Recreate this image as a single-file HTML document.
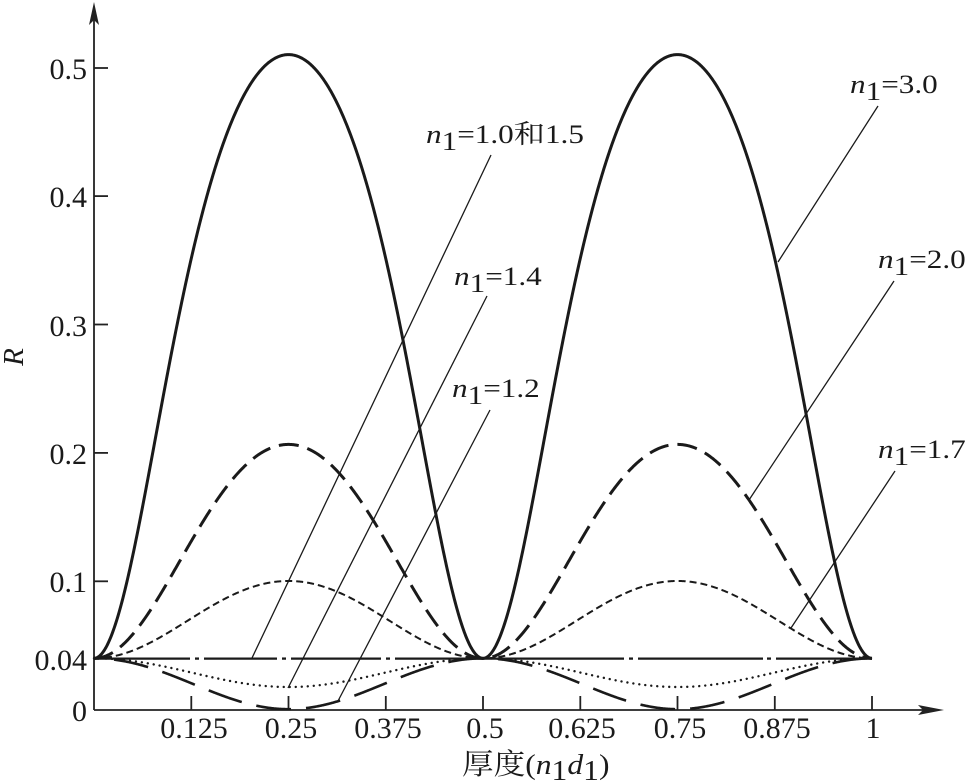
<!DOCTYPE html>
<html>
<head>
<meta charset="utf-8">
<style>
  html,body{margin:0;padding:0;background:#fff;}
  svg{display:block;}
  text{font-family:"Liberation Serif","Noto Serif CJK SC",serif;fill:#1a1a1a;}
</style>
</head>
<body>
<svg id="s" width="967" height="781" viewBox="0 0 967 781" xmlns="http://www.w3.org/2000/svg">
  <rect width="967" height="781" fill="#fff"/>
  <!-- axes -->
  <g stroke="#222" stroke-width="1.8" fill="none">
    <line x1="94" y1="710" x2="94" y2="14"/>
    <line x1="94" y1="710" x2="930" y2="710"/>
    <!-- y ticks -->
    <line x1="94" y1="581.3" x2="108" y2="581.3"/>
    <line x1="94" y1="452.9" x2="108" y2="452.9"/>
    <line x1="94" y1="324.5" x2="108" y2="324.5"/>
    <line x1="94" y1="196.1" x2="108" y2="196.1"/>
    <line x1="94" y1="68" x2="108" y2="68"/>
    <!-- x ticks -->
    <line x1="191.3" y1="710" x2="191.3" y2="696"/>
    <line x1="288.5" y1="710" x2="288.5" y2="696"/>
    <line x1="385.8" y1="710" x2="385.8" y2="696"/>
    <line x1="483" y1="710" x2="483" y2="696"/>
    <line x1="580.3" y1="710" x2="580.3" y2="696"/>
    <line x1="677.5" y1="710" x2="677.5" y2="696"/>
    <line x1="774.8" y1="710" x2="774.8" y2="696"/>
    <line x1="872" y1="710" x2="872" y2="696"/>
  </g>
  <polygon points="94,2 89,25 94,20 99,25" fill="#222"/>
  <polygon points="944,710 918,705 923,710 918,715" fill="#222"/>

  <!-- tick labels -->
  <g font-size="30" text-anchor="end">
    <text x="87" y="79">0.5</text>
    <text x="87" y="207">0.4</text>
    <text x="87" y="336">0.3</text>
    <text x="87" y="464">0.2</text>
    <text x="87" y="592">0.1</text>
    <text x="87" y="670">0.04</text>
    <text x="87" y="721">0</text>
  </g>
  <g font-size="30" text-anchor="middle">
    <text x="194" y="738">0.125</text>
    <text x="291" y="738">0.25</text>
    <text x="388" y="738">0.375</text>
    <text x="485" y="738">0.5</text>
    <text x="582" y="738">0.625</text>
    <text x="680" y="738">0.75</text>
    <text x="777" y="738">0.875</text>
    <text x="873" y="738">1</text>
  </g>

  <!-- axis labels -->
  <text transform="translate(23,357) rotate(-90)" font-size="29" font-style="italic" text-anchor="middle">R</text>
  <g transform="translate(462,774) scale(1.09,1)">
    <text x="0" y="0" font-size="29">厚度(<tspan font-style="italic">n</tspan><tspan dy="6">1</tspan><tspan dy="-6" font-style="italic">d</tspan><tspan dy="6">1</tspan><tspan dy="-6">)</tspan></text>
  </g>

  <!-- 0.04 line (n1=1.0 solid + n1=1.5 dash-dot) -->
  <g stroke="#1a1a1a" stroke-width="2.3" fill="none">
    <line x1="94" y1="658.6" x2="190" y2="658.6"/>
    <line x1="195" y1="658.6" x2="199" y2="658.6"/>
    <line x1="204" y1="658.6" x2="277" y2="658.6"/>
    <line x1="282" y1="658.6" x2="286" y2="658.6"/>
    <line x1="291" y1="658.6" x2="381" y2="658.6"/>
    <line x1="386" y1="658.6" x2="390" y2="658.6"/>
    <line x1="395" y1="658.6" x2="624" y2="658.6"/>
    <line x1="629" y1="658.6" x2="633" y2="658.6"/>
    <line x1="638" y1="658.6" x2="763" y2="658.6"/>
    <line x1="767" y1="658.6" x2="771" y2="658.6"/>
    <line x1="776" y1="658.6" x2="872" y2="658.6"/>
  </g>

  <!-- curves -->
  <path id="c30" fill="none" stroke="#1a1a1a" stroke-width="3"/>
  <path id="c20" fill="none" stroke="#1a1a1a" stroke-width="3" stroke-dasharray="20 9"/>
  <path id="c17" fill="none" stroke="#1a1a1a" stroke-width="2" stroke-dasharray="7 4"/>
  <path id="c14" fill="none" stroke="#1a1a1a" stroke-width="2.4" stroke-dasharray="0.01 6" stroke-linecap="round"/>
  <path id="c12" fill="none" stroke="#1a1a1a" stroke-width="2.6" stroke-dasharray="35 15" stroke-dashoffset="30"/>

  <!-- leader lines -->
  <g stroke="#1a1a1a" stroke-width="1.3" fill="none">
    <line x1="491" y1="155" x2="252" y2="658"/>
    <line x1="487" y1="296" x2="288" y2="688"/>
    <line x1="490" y1="410" x2="338" y2="701"/>
    <line x1="878" y1="106" x2="778" y2="262"/>
    <line x1="894" y1="281" x2="749" y2="500"/>
    <line x1="895" y1="471" x2="791" y2="628"/>
  </g>

  <!-- labels -->
  <g font-size="26">
    <g transform="translate(426,143) scale(1.2,1)"><text x="0" y="0"><tspan font-style="italic">n</tspan><tspan dy="7">1</tspan><tspan dy="-7">=1.0和1.5</tspan></text></g>
    <g transform="translate(454,285) scale(1.2,1)"><text x="0" y="0"><tspan font-style="italic">n</tspan><tspan dy="7">1</tspan><tspan dy="-7">=1.4</tspan></text></g>
    <g transform="translate(452,397) scale(1.2,1)"><text x="0" y="0"><tspan font-style="italic">n</tspan><tspan dy="7">1</tspan><tspan dy="-7">=1.2</tspan></text></g>
    <g transform="translate(850,93) scale(1.2,1)"><text x="0" y="0"><tspan font-style="italic">n</tspan><tspan dy="7">1</tspan><tspan dy="-7">=3.0</tspan></text></g>
    <g transform="translate(878,268) scale(1.2,1)"><text x="0" y="0"><tspan font-style="italic">n</tspan><tspan dy="7">1</tspan><tspan dy="-7">=2.0</tspan></text></g>
    <g transform="translate(878,458) scale(1.2,1)"><text x="0" y="0"><tspan font-style="italic">n</tspan><tspan dy="7">1</tspan><tspan dy="-7">=1.7</tspan></text></g>
  </g>
</svg>
<script>
(function(){
  function R(n,x){
    var r1=(1-n)/(1+n), r2=(n-1.5)/(n+1.5), c=Math.cos(4*Math.PI*x);
    var num=r1*r1+r2*r2+2*r1*r2*c, den=1+r1*r1*r2*r2+2*r1*r2*c;
    return num/den;
  }
  function X(x){return 94+778*x;}
  function Y(r){return 709.7-1284*r;}
  function build(n){
    var N=1000, d="";
    for(var i=0;i<=N;i++){
      var x=i/N;
      d+=(i?"L":"M")+X(x).toFixed(2)+","+Y(R(n,x)).toFixed(2);
    }
    return d;
  }
  var m={c30:3.0,c20:2.0,c17:1.7,c14:1.4,c12:1.2};
  for(var k in m){document.getElementById(k).setAttribute("d",build(m[k]));}
})();
</script>
</body>
</html>
